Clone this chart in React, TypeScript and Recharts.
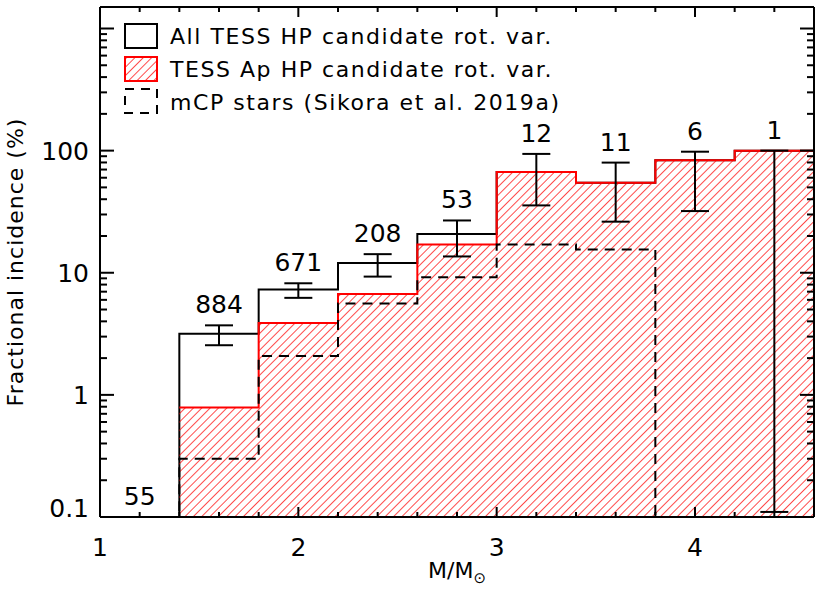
import React from "react";
import {
  ComposedChart,
  Area,
  Line,
  Scatter,
  ErrorBar,
  XAxis,
  YAxis,
  Legend,
} from "recharts";

// mass bins (M/Msun), 0.4 wide
const binEdges = [1.0, 1.4, 1.8, 2.2, 2.6, 3.0, 3.4, 3.8, 4.2, 4.6];
const binCenters = [1.2, 1.6, 2.0, 2.4, 2.8, 3.2, 3.6, 4.0, 4.4];

// fractional incidence (%) per bin
const allRotVar = [0, 3.17, 7.3, 12.0, 20.8, 66.7, 54.5, 83.3, 100];
const apRotVar = [0, 0.79, 3.87, 6.7, 17.0, 66.7, 54.5, 83.3, 100];
const mcpStars = [0, 0.3, 2.08, 5.6, 9.2, 17.0, 15.5, 0, 0];

// error bars on the "all" histogram
const errLow = [null, 2.55, 6.23, 9.3, 13.6, 35.6, 26.2, 32.0, 0.11];
const errHigh = [null, 3.71, 8.2, 14.2, 26.8, 94.0, 79.8, 98.0, 100];

// number of stars per bin
const starCounts = ["55", "884", "671", "208", "53", "12", "11", "6", "1"];

const legendLabels = [
  "All TESS HP candidate rot. var.",
  "TESS Ap HP candidate rot. var.",
  "mCP stars (Sikora et al. 2019a)",
];

const xMajorTicks = [1, 2, 3, 4];
const xTicks = [1, 1.2, 1.4, 1.6, 1.8, 2, 2.2, 2.4, 2.6, 2.8, 3, 3.2, 3.4, 3.6, 3.8, 4, 4.2, 4.4, 4.6];
const yMajorTicks = [0.1, 1, 10, 100, 1000];
const yLabelTicks = [0.1, 1, 10, 100];
const yTicks = [
  0.1, 0.2, 0.3, 0.4, 0.5, 0.6, 0.7, 0.8, 0.9,
  1, 2, 3, 4, 5, 6, 7, 8, 9,
  10, 20, 30, 40, 50, 60, 70, 80, 90,
  100, 200, 300, 400, 500, 600, 700, 800, 900,
  1000,
];

const Y_MIN = 0.1;
const Y_MAX = 1500;
const FONT = "DejaVu Sans";

const PLOT_BOTTOM = 517;

// zeros can't sit on a log axis: clip them to the floor
const clip = (v: number) => Math.max(v, Y_MIN);

const stepRows = binEdges.map((x, i) => {
  const b = Math.min(i, allRotVar.length - 1);
  return {
    x,
    all: clip(allRotVar[b]),
    ap: apRotVar[b] > 0 ? apRotVar[b] : null,
    mcp: clip(mcpStars[b]),
  };
});

const errRows = binCenters
  .map((x, i) => ({ x, y: allRotVar[i], low: errLow[i], high: errHigh[i] }))
  .filter((d) => d.low != null)
  .map((d) => ({ x: d.x, y: d.y, err: [d.y - (d.low as number), (d.high as number) - d.y] }));

const countRows = binCenters.map((x, i) => ({
  x,
  y: errHigh[i] ?? Y_MIN,
  label: starCounts[i],
}));

const isMajor = (v: number, list: number[]) => list.some((m) => Math.abs(m - v) < 1e-9);

const BottomTick = (props: any) => {
  const { x, y, payload } = props;
  const major = isMajor(payload.value, xMajorTicks);
  return (
    <g>
      <line x1={x} x2={x} y1={y} y2={y - (major ? 10 : 5)} stroke="#000" strokeWidth={2} />
      {major && (
        <text x={x} y={y + 39} textAnchor="middle" fontFamily={FONT} fontSize={25} fill="#000">
          {payload.value}
        </text>
      )}
    </g>
  );
};

const TopTick = (props: any) => {
  const { x, y, payload } = props;
  const major = isMajor(payload.value, xMajorTicks);
  return <line x1={x} x2={x} y1={y} y2={y + (major ? 10 : 5)} stroke="#000" strokeWidth={2} />;
};

const LeftTick = (props: any) => {
  const { x, y, payload } = props;
  const major = isMajor(payload.value, yMajorTicks);
  const showLabel = isMajor(payload.value, yLabelTicks);
  const base = Math.min(y + 9, PLOT_BOTTOM);
  return (
    <g>
      <line x1={x} x2={x + (major ? 14 : 7)} y1={y} y2={y} stroke="#000" strokeWidth={2} />
      {showLabel && (
        <text x={89} y={base} textAnchor="end" fontFamily={FONT} fontSize={25} fill="#000">
          {payload.value}
        </text>
      )}
    </g>
  );
};

const RightTick = (props: any) => {
  const { x, y, payload } = props;
  const major = isMajor(payload.value, yMajorTicks);
  return <line x1={x} x2={x - (major ? 14 : 7)} y1={y} y2={y} stroke="#000" strokeWidth={2} />;
};

const CountLabel = (props: any) => {
  const { cx, cy, payload } = props;
  return (
    <text x={cx} y={cy - 12} textAnchor="middle" fontFamily={FONT} fontSize={25} fill="#000">
      {payload.label}
    </text>
  );
};

const LegendBox = () => (
  <svg width={600} height={120} style={{ display: "block" }}>
    <rect x={125} y={24} width={32} height={24} fill="none" stroke="#000" strokeWidth={2} />
    <rect x={125} y={57} width={32} height={24} fill="url(#hatch)" stroke="#ff0000" strokeWidth={2} />
    <rect x={125} y={89} width={32} height={24} fill="none" stroke="#000" strokeWidth={2} strokeDasharray="9 7" />
    {legendLabels.map((t, i) => (
      <text
        key={t}
        x={170}
        y={44 + i * 33}
        fontFamily={FONT}
        fontSize={22}
        letterSpacing={1.55}
        fill="#000"
      >
        {t}
      </text>
    ))}
  </svg>
);

export default function App() {
  return (
    <div style={{ position: "absolute", left: 0, top: 0, width: 830, height: 593, background: "#fff" }}>
      <ComposedChart
        width={830}
        height={593}
        data={stepRows}
        margin={{ top: 6, right: 15, bottom: 75, left: 99 }}
      >
        <defs>
          <pattern
            id="hatch"
            patternUnits="userSpaceOnUse"
            width={5.9}
            height={5.9}
            patternTransform="rotate(45)"
          >
            <line x1={0} y1={0} x2={0} y2={5.9} stroke="#ff0000" strokeWidth={1.4} />
          </pattern>
        </defs>
        <XAxis
          dataKey="x"
          type="number"
          domain={[1, 4.6]}
          allowDataOverflow
          ticks={xTicks}
          interval={0}
          height={1}
          tickSize={0}
          tickMargin={0}
          tickLine={false}
          tick={<BottomTick />}
          axisLine={{ stroke: "#000", strokeWidth: 2 }}
        />
        <XAxis
          xAxisId="top"
          orientation="top"
          dataKey="x"
          type="number"
          domain={[1, 4.6]}
          allowDataOverflow
          ticks={xTicks}
          interval={0}
          height={1}
          tickSize={0}
          tickMargin={0}
          tickLine={false}
          tick={<TopTick />}
          axisLine={{ stroke: "#000", strokeWidth: 2 }}
        />
        <YAxis
          scale="log"
          type="number"
          domain={[Y_MIN, Y_MAX]}
          allowDataOverflow
          ticks={yTicks}
          interval={0}
          width={1}
          tickSize={0}
          tickMargin={0}
          tickLine={false}
          tick={<LeftTick />}
          axisLine={{ stroke: "#000", strokeWidth: 2 }}
        />
        <YAxis
          yAxisId="right"
          orientation="right"
          scale="log"
          type="number"
          domain={[Y_MIN, Y_MAX]}
          allowDataOverflow
          ticks={yTicks}
          interval={0}
          width={1}
          tickSize={0}
          tickMargin={0}
          tickLine={false}
          tick={<RightTick />}
          axisLine={{ stroke: "#000", strokeWidth: 2 }}
        />
        <Area
          dataKey="all"
          type="stepAfter"
          baseValue={Y_MIN}
          stroke="#000"
          strokeWidth={2}
          fill="none"
          dot={false}
          activeDot={false}
          isAnimationActive={false}
        />
        <Area
          dataKey="ap"
          type="stepAfter"
          baseValue={Y_MIN}
          stroke="#ff0000"
          strokeWidth={2}
          fill="url(#hatch)"
          fillOpacity={1}
          dot={false}
          activeDot={false}
          isAnimationActive={false}
        />
        <Line
          dataKey="mcp"
          type="stepAfter"
          stroke="#000"
          strokeWidth={2}
          strokeDasharray="10 7"
          dot={false}
          activeDot={false}
          isAnimationActive={false}
        />
        <Scatter data={errRows} dataKey="y" shape={() => <g />} isAnimationActive={false}>
          <ErrorBar dataKey="err" direction="y" width={14} stroke="#000" strokeWidth={2} />
        </Scatter>
        <Scatter data={countRows} dataKey="y" shape={<CountLabel />} isAnimationActive={false} />
        <Legend
          layout="horizontal"
          verticalAlign="middle"
          align="center"
          wrapperStyle={{ position: "absolute", left: 0, top: 0, width: 600, height: 120 }}
          content={() => <LegendBox />}
        />
        <text
          x={23}
          y={262}
          transform="rotate(-90, 23, 262)"
          textAnchor="middle"
          fontFamily={FONT}
          fontSize={22}
          letterSpacing={1}
          fill="#000"
        >
          Fractional incidence (%)
        </text>
        <text x={457} y={578} textAnchor="middle" fontFamily={FONT} fontSize={22} fill="#000">
          M/M
          <tspan fontSize={15} dy={5}>
            ⊙
          </tspan>
        </text>
      </ComposedChart>
    </div>
  );
}
